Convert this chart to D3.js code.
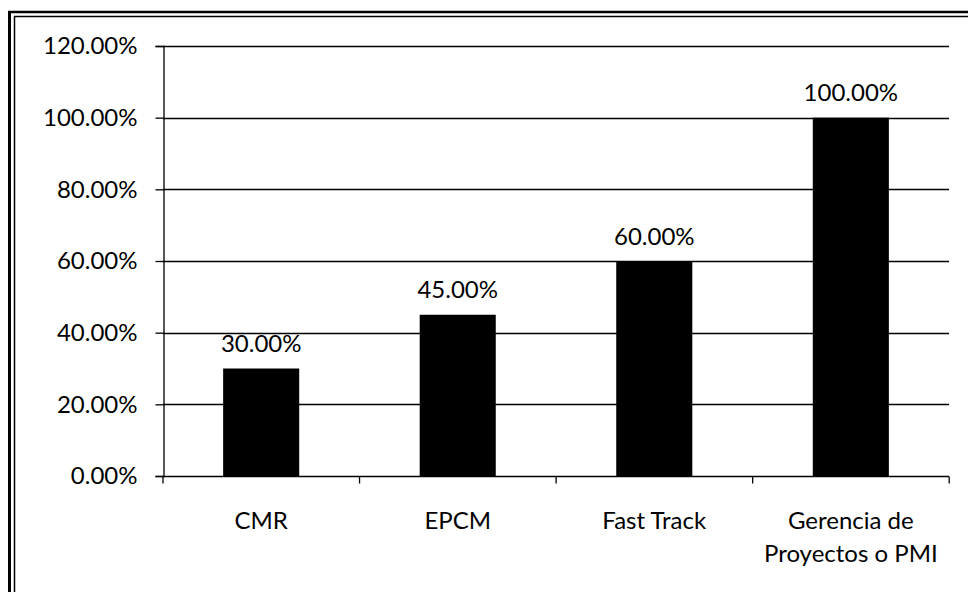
<!DOCTYPE html>
<html><head><meta charset="utf-8">
<script src="https://cdn.jsdelivr.net/npm/d3@7"></script>
<style>body{margin:0;background:#fff}svg{display:block}text{font-family:Lato,"Open Sans",sans-serif;fill:#000}</style>
</head><body><svg id="c" width="968" height="592"></svg>
<script>
const categories = ["CMR", "EPCM", "Fast Track", "Gerencia de|Proyectos o PMI"];
const values = [0.30, 0.45, 0.60, 1.00];
const yTicks = [0, 0.2, 0.4, 0.6, 0.8, 1.0, 1.2];

const FS = "24px";
const svg = d3.select("#c");
// double border (left & top)
svg.append("line").attr("x1",9.5).attr("x2",9.5).attr("y1",11).attr("y2",592).attr("stroke","#000").attr("stroke-width",3);
svg.append("line").attr("x1",14.5).attr("x2",14.5).attr("y1",16).attr("y2",592).attr("stroke","#000").attr("stroke-width",1.5);
svg.append("line").attr("x1",8).attr("x2",968).attr("y1",12).attr("y2",12).attr("stroke","#000").attr("stroke-width",2.5);
svg.append("line").attr("x1",14).attr("x2",968).attr("y1",16.5).attr("y2",16.5).attr("stroke","#000").attr("stroke-width",1.5);

const m = {l:163, r:949, t:46, b:476};
const x = d3.scaleBand().domain(categories).range([m.l, m.r]).paddingInner(0.613).paddingOuter(0.306);
const y = d3.scaleLinear().domain([0, 1.2]).range([m.b, m.t]);
const fmt = d => (d*100).toFixed(2) + "%";

// gridlines
svg.append("g").selectAll("line").data(yTicks.filter(d=>d>0)).join("line")
  .attr("x1", m.l).attr("x2", m.r).attr("y1", d=>Math.round(y(d))+0.5).attr("y2", d=>Math.round(y(d))+0.5)
  .attr("stroke","#000").attr("stroke-width",1.3);

// y axis
const ya = svg.append("g").attr("transform",`translate(${m.l+0.5},0)`)
  .call(d3.axisLeft(y).tickValues(yTicks).tickFormat(fmt).tickSize(8).tickPadding(18));
ya.select(".domain").attr("stroke","#000").attr("stroke-width",1.3);
ya.selectAll(".tick line").attr("stroke","#000").attr("stroke-width",1.3);
ya.selectAll(".tick text").style("font-size",FS).style("font-family","Lato, 'Open Sans', sans-serif");

// bars
svg.append("g").selectAll("rect").data(values).join("rect")
  .attr("x", (d,i)=>x(categories[i])).attr("width", x.bandwidth())
  .attr("y", d=>y(d)).attr("height", d=>y(0)-y(d)).attr("fill","#000");

// x axis
const xa = svg.append("g").attr("transform",`translate(0,${m.b+0.5})`);
xa.append("line").attr("x1",m.l).attr("x2",m.r).attr("stroke","#000").attr("stroke-width",1.3);
const step = x.step();
const bounds = d3.range(categories.length+1).map(i => m.l + i*step);
xa.selectAll("line.tk").data(bounds).join("line").attr("class","tk")
  .attr("x1",d=>d).attr("x2",d=>d).attr("y1",0).attr("y2",7).attr("stroke","#000").attr("stroke-width",1.3);

// x labels
svg.append("g").selectAll("text").data(categories).join("text")
  .attr("x", d=>x(d)+x.bandwidth()/2).attr("y", 528.5).attr("text-anchor","middle").style("font-size",FS)
  .each(function(d){
    const parts = d.split("|");
    d3.select(this).selectAll("tspan").data(parts).join("tspan")
      .attr("x", x(d)+x.bandwidth()/2).attr("dy",(p,i)=>i===0?0:33).text(p=>p);
  });

// data labels
svg.append("g").selectAll("text").data(values).join("text")
  .attr("x",(d,i)=>x(categories[i])+x.bandwidth()/2).attr("y", d=>y(d)-16.5)
  .attr("text-anchor","middle").style("font-size",FS).text(fmt);
</script></body></html>
